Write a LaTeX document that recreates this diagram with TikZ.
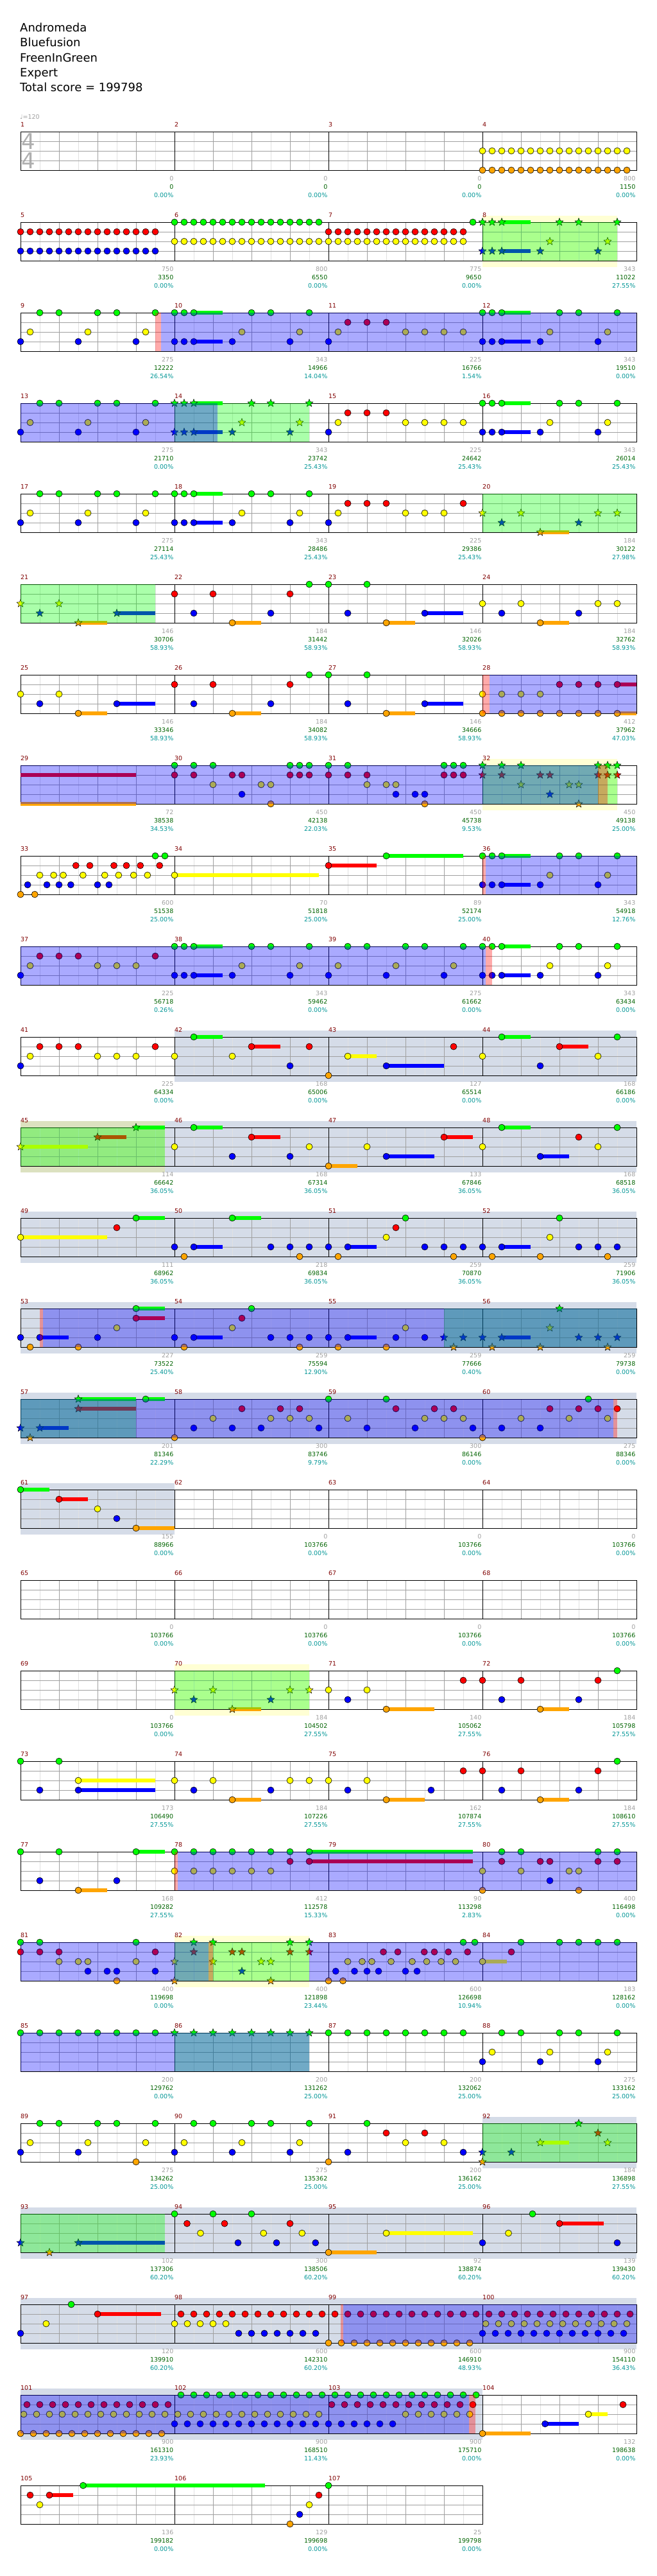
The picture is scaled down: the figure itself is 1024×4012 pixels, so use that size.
\documentclass[tikz,border=0pt]{standalone}
\usepackage{fontspec}
\setmainfont{DejaVu Sans}
\definecolor{cG}{RGB}{0,255,0}
\definecolor{cR}{RGB}{255,0,0}
\definecolor{cY}{RGB}{255,255,0}
\definecolor{cB}{RGB}{0,0,255}
\definecolor{cO}{RGB}{255,165,0}
\definecolor{slate}{RGB}{213,220,232}
\definecolor{mnum}{RGB}{128,0,0}
\definecolor{gnum}{RGB}{160,160,160}
\definecolor{dgnum}{RGB}{0,100,0}
\definecolor{tnum}{RGB}{0,150,150}
\definecolor{beat}{RGB}{160,160,160}
\definecolor{eighth}{RGB}{225,225,225}
\definecolor{tsig}{RGB}{175,175,175}
\tikzset{
 rowsc/.style={x=15pt,y=-15pt,shift={(32pt,-#1pt)}},
 lbl/.style={inner sep=0pt,font=\fontsize{9.5}{10}\selectfont},
 mn/.style={lbl,text=mnum,anchor=west},
 gr/.style={lbl,text=gnum,anchor=east},
 gn/.style={lbl,text=dgnum,anchor=east},
 tl/.style={lbl,text=tnum,anchor=east},
 hd/.style={inner sep=0pt,anchor=base west,font=\fontsize{18}{20}\selectfont},
 notec/.style={line width=0.6pt},
}
\newcommand\grid[1]{%
 \pgfmathtruncatemacro\gl{#1-2}\pgfmathtruncatemacro\gb{#1-4}%
 \foreach \i in {2,6,...,\gl}{\draw[eighth,line width=0.8pt] (\i,0)--(\i,4);}
 \foreach \i in {4,8,...,\gb}{\draw[beat,line width=0.8pt] (\i,0)--(\i,4);}
 \foreach \i in {1,2,3}{\draw[beat,line width=0.8pt] (0,\i)--(#1,\i);}
 \foreach \i in {16,32,...,\gb}{\draw[black,line width=0.8pt] (\i,0)--(\i,4);}
 \draw[black,line width=1pt] (0,0) rectangle (#1,4);}
\newcommand\nt[3]{\foreach \p in {#3}{\draw[fill=#2,notec] (\p,#1) circle[radius=5pt];}}
\newcommand\nG[1]{\nt{0}{cG}{#1}}
\newcommand\nR[1]{\nt{1}{cR}{#1}}
\newcommand\nY[1]{\nt{2}{cY}{#1}}
\newcommand\nB[1]{\nt{3}{cB}{#1}}
\newcommand\nO[1]{\nt{4}{cO}{#1}}
\newcommand\strs[3]{\foreach \p in {#3}{\draw[fill=#2,line width=0.5pt,shift={(\p,#1)}] (90:6.3pt)--(126:2.7pt)--(162:6.3pt)--(198:2.7pt)--(234:6.3pt)--(270:2.7pt)--(306:6.3pt)--(342:2.7pt)--(18:6.3pt)--(54:2.7pt)--cycle;}}
\newcommand\sG[1]{\strs{0}{cG}{#1}}
\newcommand\sR[1]{\strs{1}{cR}{#1}}
\newcommand\sY[1]{\strs{2}{cY}{#1}}
\newcommand\sB[1]{\strs{3}{cB}{#1}}
\newcommand\sO[1]{\strs{4}{cO}{#1}}
\newcommand\su[4]{\fill[#2] (#3,{#1-0.22}) rectangle (#4,{#1+0.22});}
\newcommand\trip[4]{\foreach \k in {0,...,#4}{\draw[fill=#2,notec] ({#3+1.33333*\k},#1) circle[radius=5pt];}}
\newcommand\gz[2]{\fill[cG,opacity=0.333] (#1,0) rectangle (#2,4);}
\newcommand\bz[2]{\fill[cB,opacity=0.333] (#1,0) rectangle (#2,4);}
\newcommand\pz[2]{\fill[cR,opacity=0.333] (#1,0) rectangle (#2,4);}
\newcommand\sz[2]{\fill[slate] (#1,-0.667) rectangle (#2,4.667);}
\newcommand\yz[2]{\fill[cY,opacity=0.17] (#1,-0.667) rectangle (#2,4.667);}
\newcommand\ms[5]{\node[mn] (m#2) at ({16*#1},-0.75) {#2};
 \node[gr] (a#2) at ({16*#1+15.9},4.85) {#3};
 \node[gn] (b#2) at ({16*#1+15.9},5.73) {#4};
 \node[tl] (c#2) at ({16*#1+15.9},6.62) {#5};}
\begin{document}
\begin{tikzpicture}
\useasboundingbox (0,0) rectangle (1024pt,-4012pt);
\fill[white] (0,0) rectangle (1024pt,-4012pt);
\node[hd] (h1) at (31pt,-50pt) {Andromeda};
\node[hd] (h2) at (31pt,-73pt) {Bluefusion};
\node[hd] (h3) at (31pt,-96pt) {FreenInGreen};
\node[hd] (h4) at (31pt,-119pt) {Expert};
\node[hd] (h5) at (31pt,-142pt) {Total score = 199798};
\node[lbl,text=gnum,anchor=west] (tempo) at (31pt,-182pt) {♩=120};
\node[inner sep=0pt,text=tsig,font=\fontsize{34}{34}\selectfont] (ts1) at (44.5pt,-220.5pt) {4};
\node[inner sep=0pt,text=tsig,font=\fontsize{34}{34}\selectfont] (ts2) at (44.5pt,-250.5pt) {4};
% row 1
\begin{scope}[rowsc=205]
\grid{64}
\nY{48,...,63}\nO{48,...,63}
\ms{0}{1}{0}{0}{0.00\%}\ms{1}{2}{0}{0}{0.00\%}\ms{2}{3}{0}{0}{0.00\%}\ms{3}{4}{800}{1150}{0.00\%}
\end{scope}
% row 2
\begin{scope}[rowsc=346]
\yz{48}{62}
\grid{64}
\nR{0,...,14}\nB{0,...,14}\nY{16,...,46}\nG{16,...,31}\nR{32,...,46}\nG{47}
\su{0}{cG}{50}{53}\sG{48,49,50,56,58,62}\sY{55,61}\su{3}{cB}{50}{53}\sB{48,49,50,54,60}
\gz{48}{62}
\ms{0}{5}{750}{3350}{0.00\%}\ms{1}{6}{800}{6550}{0.00\%}\ms{2}{7}{775}{9650}{0.00\%}\ms{3}{8}{343}{11022}{27.55\%}
\end{scope}
% row 3
\begin{scope}[rowsc=487]
\grid{64}
\nG{2,4,8,10,14}\nY{1,7,13}\nB{0,6,12}
\su{0}{cG}{18}{21}\nG{16,17,18,24,26,30}\nY{23,29}\su{3}{cB}{18}{21}\nB{16,17,18,22,28,32}
\nR{34,36,38}\nY{33,40,42,44,46}
\su{0}{cG}{50}{53}\nG{48,49,50,56,58,62}\nY{55,61}\su{3}{cB}{50}{53}\nB{48,49,50,54,60}
\pz{14}{14.6}\bz{14.6}{64}
\ms{0}{9}{275}{12222}{26.54\%}\ms{1}{10}{343}{14966}{14.04\%}\ms{2}{11}{225}{16766}{1.54\%}\ms{3}{12}{343}{19510}{0.00\%}
\end{scope}
% row 4
\begin{scope}[rowsc=628]
\grid{64}
\nG{2,4,8,10,14}\nY{1,7,13}\nB{0,6,12}
\su{0}{cG}{18}{21}\sG{16,17,18,24,26,30}\sY{23,29}\su{3}{cB}{18}{21}\sB{16,17,18,22,28}
\nR{34,36,38}\nY{33,40,42,44,46}\nB{32}
\su{0}{cG}{50}{53}\nG{48,49,50,56,58,62}\nY{55,61}\su{3}{cB}{50}{53}\nB{48,49,50,54,60}
\gz{16}{30}\bz{0}{20.46}
\ms{0}{13}{275}{21710}{0.00\%}\ms{1}{14}{343}{23742}{25.43\%}\ms{2}{15}{225}{24642}{25.43\%}\ms{3}{16}{343}{26014}{25.43\%}
\end{scope}
% row 5
\begin{scope}[rowsc=769]
\grid{64}
\nG{2,4,8,10,14}\nY{1,7,13}\nB{0,6,12}
\su{0}{cG}{18}{21}\nG{16,17,18,24,26,30}\nY{23,29}\su{3}{cB}{18}{21}\nB{16,17,18,22,28,32}
\nR{34,36,38,46}\nY{33,40,42,44}
\sY{48,52,60,62}\sB{50,58}\su{4}{cO}{54}{57}\sO{54}
\gz{48}{64}
\ms{0}{17}{275}{27114}{25.43\%}\ms{1}{18}{343}{28486}{25.43\%}\ms{2}{19}{225}{29386}{25.43\%}\ms{3}{20}{184}{30122}{27.98\%}
\end{scope}
% row 6
\begin{scope}[rowsc=910]
\grid{64}
\sY{0,4}\su{3}{cB}{10}{14}\sB{2,10}\su{4}{cO}{6}{9}\sO{6}
\nR{16,20,28}\nB{18,26}\su{4}{cO}{22}{25}\nO{22}\nG{30}
\nG{32,36}\su{3}{cB}{42}{46}\nB{34,42}\su{4}{cO}{38}{41}\nO{38}
\nY{48,52,60,62}\nB{50,58}\su{4}{cO}{54}{57}\nO{54}
\gz{0}{14}
\ms{0}{21}{146}{30706}{58.93\%}\ms{1}{22}{184}{31442}{58.93\%}\ms{2}{23}{146}{32026}{58.93\%}\ms{3}{24}{184}{32762}{58.93\%}
\end{scope}
% row 7
\begin{scope}[rowsc=1051]
\grid{64}
\nY{0,4}\su{3}{cB}{10}{14}\nB{2,10}\su{4}{cO}{6}{9}\nO{6}
\nR{16,20,28}\nB{18,26}\su{4}{cO}{22}{25}\nO{22}\nG{30}
\nG{32,36}\su{3}{cB}{42}{46}\nB{34,42}\su{4}{cO}{38}{41}\nO{38}
\nY{48,50,52,54}\su{1}{cR}{62}{64}\nR{56,58,60,62}\su{4}{cO}{62}{64}\nO{48,50,...,62}
\pz{48}{48.7}\bz{48.7}{64}
\ms{0}{25}{146}{33346}{58.93\%}\ms{1}{26}{184}{34082}{58.93\%}\ms{2}{27}{146}{34666}{58.93\%}\ms{3}{28}{412}{37962}{47.03\%}
\end{scope}
% row 8
\begin{scope}[rowsc=1192]
\yz{48}{62}
\grid{64}
\su{1}{cR}{0}{12}\su{4}{cO}{0}{12}
\nG{16,18,20,28,29,30}\nR{16,18,22,23,28,29,30}\nY{20,25,26}\nB{23}\nO{26}
\nG{32,34,44,45,46}\nR{32,34,36,44,45,46}\nY{36,38,39}\nB{39,41,42}\nO{42}
\sG{48,50,52,60,61,62}\sR{48,50,54,55,60,61,62}\sY{52,57,58}\sB{55}\sO{58}
\gz{48}{62}\bz{0}{60}\pz{60}{61}
\ms{0}{29}{72}{38538}{34.53\%}\ms{1}{30}{450}{42138}{22.03\%}\ms{2}{31}{450}{45738}{9.53\%}\ms{3}{32}{450}{49138}{25.00\%}
\end{scope}
% row 9
\begin{scope}[rowsc=1333]
\grid{64}
\nG{14,15}\nR{5.75,7.2,9.7,11,12.45,14.45}\nY{2,3.44,4.44,6.49,8.75,10.19,11.75,13.19}\nB{0.74,2.74,4,5.22,8,9.19}\nO{0,1.48}
\su{2}{cY}{16}{31}\nY{16}
\su{1}{cR}{32}{37}\nR{32}\su{0}{cG}{38}{46}\nG{38}
\su{0}{cG}{50}{53}\nG{48,49,50,56,58,62}\nY{55,61}\su{3}{cB}{50}{53}\nB{48,49,50,54,60}
\pz{48}{48.35}\bz{48.35}{64}
\ms{0}{33}{600}{51538}{25.00\%}\ms{1}{34}{70}{51818}{25.00\%}\ms{2}{35}{89}{52174}{25.00\%}\ms{3}{36}{343}{54918}{12.76\%}
\end{scope}
% row 10
\begin{scope}[rowsc=1474]
\grid{64}
\nR{2,4,6,14}\nY{1,8,10,12}\nB{0}
\su{0}{cG}{18}{21}\nG{16,17,18,24,26,30}\nY{23,29}\su{3}{cB}{18}{21}\nB{16,17,18,22,28}
\nG{34,36,40,42,46,48}\nY{33,39,45}\nB{32,38,44,48}
\su{0}{cG}{50}{53}\nG{49,50,56,58,62}\nY{55,61}\su{3}{cB}{50}{53}\nB{49,50,54,60}
\bz{0}{48.35}\pz{48.35}{49}
\ms{0}{37}{225}{56718}{0.26\%}\ms{1}{38}{343}{59462}{0.00\%}\ms{2}{39}{275}{61662}{0.00\%}\ms{3}{40}{343}{63434}{0.00\%}
\end{scope}
% row 11
\begin{scope}[rowsc=1615]
\sz{16}{64}
\grid{64}
\nR{2,4,6,14}\nY{1,8,10,12,16}\nB{0}
\su{0}{cG}{18}{21}\nG{18}\su{1}{cR}{24}{27}\nR{24,30}\nY{22}\nB{28}\nO{32}
\su{2}{cY}{34}{37}\nY{34}\su{3}{cB}{38}{44}\nB{38}\nR{45}
\nY{48,60}\su{0}{cG}{50}{53}\nG{50,62}\nB{54}\su{1}{cR}{56}{59}\nR{56}
\ms{0}{41}{225}{64334}{0.00\%}\ms{1}{42}{168}{65006}{0.00\%}\ms{2}{43}{127}{65514}{0.00\%}\ms{3}{44}{168}{66186}{0.00\%}
\end{scope}
% row 12
\begin{scope}[rowsc=1756]
\sz{0}{64}\yz{0}{15}
\grid{64}
\su{0}{cG}{12}{15}\sG{12}\su{1}{cR}{8}{11}\sR{8}\su{2}{cY}{0}{7}\sY{0}
\nY{16,30}\su{0}{cG}{18}{21}\nG{18}\nB{22,28}\su{1}{cR}{24}{27}\nR{24}
\su{4}{cO}{32}{35}\nO{32}\nY{36}\su{3}{cB}{38}{43}\nB{38}\su{1}{cR}{44}{47}\nR{44}
\nY{48,60}\su{0}{cG}{50}{53}\nG{50,62}\su{3}{cB}{54}{57}\nB{54}\nR{58}
\gz{0}{15}
\ms{0}{45}{114}{66642}{36.05\%}\ms{1}{46}{168}{67314}{36.05\%}\ms{2}{47}{133}{67846}{36.05\%}\ms{3}{48}{168}{68518}{36.05\%}
\end{scope}
% row 13
\begin{scope}[rowsc=1897]
\sz{0}{64}
\grid{64}
\su{2}{cY}{0}{9}\nY{0}\nR{10}\su{0}{cG}{12}{15}\nG{12}
\su{3}{cB}{18}{21}\nB{16,18,26,28,30}\nO{17,29}\su{0}{cG}{22}{25}\nG{22}
\su{3}{cB}{34}{37}\nB{32,34,42,44,46}\nO{33,45}\nY{38}\nR{39}\nG{40}
\su{3}{cB}{50}{53}\nB{48,50,58,60,62}\nO{49,54,61}\nY{55}\nG{56}
\ms{0}{49}{111}{68962}{36.05\%}\ms{1}{50}{218}{69834}{36.05\%}\ms{2}{51}{259}{70870}{36.05\%}\ms{3}{52}{259}{71906}{36.05\%}
\end{scope}
% row 14
\begin{scope}[rowsc=2038]
\sz{0}{64}
\grid{64}
\nB{0,8}\nO{1,6}\su{3}{cB}{2}{5}\nB{2}\nY{10}\su{0}{cG}{12}{15}\nG{12}\su{1}{cR}{12}{15}\nR{12}
\nB{16,26,28,30}\nO{17,29}\su{3}{cB}{18}{21}\nB{18}\nY{22}\nR{23}\nG{24}
\nB{32,39,42}\nO{33,38}\su{3}{cB}{34}{37}\nB{34}\nY{40}
\su{3}{cB}{50}{53}\sB{44,46,48,50,58,60,62}\sO{45,49,54,61}\sY{55}\sG{56}
\gz{44}{64}\pz{2}{2.3}\bz{2.3}{64}
\ms{0}{53}{227}{73522}{25.40\%}\ms{1}{54}{259}{75594}{12.90\%}\ms{2}{55}{259}{77666}{0.40\%}\ms{3}{56}{259}{79738}{0.00\%}
\end{scope}
% row 15
\begin{scope}[rowsc=2179]
\sz{0}{64}
\grid{64}
\su{3}{cB}{2}{5}\sB{0,2}\sO{1}\su{0}{cG}{6}{12}\sG{6}\su{1}{cR}{6}{12}\sR{6}\su{0}{cG}{13}{15}\nG{13}
\nO{16}\nB{18,22,25,31}\nR{23,27,29}\nY{20,26,28,30}
\nG{32,38}\nY{34,42,44,46}\nB{36,41,47}\nR{39,43,45}
\nO{48}\nB{50,54}\nY{52,57,61}\nR{55,58,60,62}\nG{59}
\gz{0}{12}\bz{0}{61.6}\pz{61.6}{62}
\ms{0}{57}{201}{81346}{22.29\%}\ms{1}{58}{300}{83746}{9.79\%}\ms{2}{59}{300}{86146}{0.00\%}\ms{3}{60}{275}{88346}{0.00\%}
\end{scope}
% row 16
\begin{scope}[rowsc=2320]
\sz{0}{16}
\grid{64}
\su{0}{cG}{0}{3}\nG{0}\su{1}{cR}{4}{7}\nR{4}\nY{8}\nB{10}\su{4}{cO}{12}{16}\nO{12}
\ms{0}{61}{155}{88966}{0.00\%}\ms{1}{62}{0}{103766}{0.00\%}\ms{2}{63}{0}{103766}{0.00\%}\ms{3}{64}{0}{103766}{0.00\%}
\end{scope}
% row 17
\begin{scope}[rowsc=2461]
\grid{64}
\ms{0}{65}{0}{103766}{0.00\%}\ms{1}{66}{0}{103766}{0.00\%}\ms{2}{67}{0}{103766}{0.00\%}\ms{3}{68}{0}{103766}{0.00\%}
\end{scope}
% row 18
\begin{scope}[rowsc=2602]
\yz{16}{30}
\grid{64}
\sY{16,20,28,30}\sB{18,26}\su{4}{cO}{22}{25}\sO{22}
\nY{32,36}\nB{34}\su{4}{cO}{38}{43}\nO{38}\nR{46}
\nR{48,52,60}\nB{50,58}\su{4}{cO}{54}{57}\nO{54}\nG{62}
\gz{16}{30}
\ms{0}{69}{0}{103766}{0.00\%}\ms{1}{70}{184}{104502}{27.55\%}\ms{2}{71}{140}{105062}{27.55\%}\ms{3}{72}{184}{105798}{27.55\%}
\end{scope}
% row 19
\begin{scope}[rowsc=2743]
\grid{64}
\nG{0,4}\nB{2}\su{2}{cY}{6}{14}\nY{6}\su{3}{cB}{6}{14}\nB{6}
\nY{16,20,28,30}\nB{18,26}\su{4}{cO}{22}{25}\nO{22}
\nY{32,36}\nB{34,42.66}\su{4}{cO}{38}{42}\nO{38}\nR{46}
\nR{48,52,60}\nB{50,58}\su{4}{cO}{54}{57}\nO{54}\nG{62}
\ms{0}{73}{173}{106490}{27.55\%}\ms{1}{74}{184}{107226}{27.55\%}\ms{2}{75}{162}{107874}{27.55\%}\ms{3}{76}{184}{108610}{27.55\%}
\end{scope}
% row 20
\begin{scope}[rowsc=2884]
\grid{64}
\nG{0,4}\su{0}{cG}{12}{15}\nG{12}\nB{2,10}\su{4}{cO}{6}{9}\nO{6}
\su{0}{cG}{30}{47}\nG{16,18,...,30}\nY{16,18,...,26}\su{1}{cR}{30}{47}\nR{28,30}
\nY{48,52,57,58}\nO{48,58}\nG{50,52,60,62}\nR{50,54,55,60,62}\nB{55}
\pz{16}{16.35}\bz{16.35}{64}
\ms{0}{77}{168}{109282}{27.55\%}\ms{1}{78}{412}{112578}{15.33\%}\ms{2}{79}{90}{113298}{2.83\%}\ms{3}{80}{400}{116498}{0.00\%}
\end{scope}
% row 21
\begin{scope}[rowsc=3025]
\yz{16}{30}
\grid{64}
\nG{0,2,12}\nR{0,2,4,14}\nY{4,6,7,12}\nB{7,9,10,14}\nO{10}
\sG{18,20,28,30}\sR{18,22,23,28,30}\sY{16,20,25,26}\sB{23}\sO{16,26}
\nO{32,33.5}\nB{32.75,34.7,36,37.2,40,41.2}\nY{34,35.5,36.5,38.5,40.7,42.2,43.7,45.2}\nR{37.7,39.2,41.95,43,44.45,46.45}\nG{46,47.2}
\su{2}{cY}{48}{50.5}\nY{48}\nR{51}\nG{52,56,58,60,62}
\gz{16}{30}\bz{0}{19.55}\pz{19.55}{20}\bz{30}{64}
\ms{0}{81}{400}{119698}{0.00\%}\ms{1}{82}{400}{121898}{23.44\%}\ms{2}{83}{600}{126698}{10.94\%}\ms{3}{84}{183}{128162}{0.00\%}
\end{scope}
% row 22
\begin{scope}[rowsc=3166]
\grid{64}
\nG{0,2,...,14}\sG{16,18,...,30}\nG{32,34,...,46}
\nB{48,54,60}\nY{49,55,61}\nG{50,52,56,58,62}
\gz{16}{30}\bz{0}{30}
\ms{0}{85}{200}{129762}{0.00\%}\ms{1}{86}{200}{131262}{25.00\%}\ms{2}{87}{200}{132062}{25.00\%}\ms{3}{88}{275}{133162}{25.00\%}
\end{scope}
% row 23
\begin{scope}[rowsc=3307]
\sz{48}{64}
\grid{64}
\nG{2,4,8,10,14}\nY{1,7,13}\nB{0,6}\nO{12}
\nG{18,20,24,26,30}\nY{17,23,29}\nB{16,22,28}\nO{32}
\nG{36}\nB{34,46}\nR{38,42}\nY{40,44}
\sB{48,51}\sO{48}\su{2}{cY}{54}{57}\sY{54,61}\sG{58}\sR{60}
\gz{48}{64}
\ms{0}{89}{275}{134262}{25.00\%}\ms{1}{90}{275}{135362}{25.00\%}\ms{2}{91}{200}{136162}{25.00\%}\ms{3}{92}{184}{136898}{27.55\%}
\end{scope}
% row 24
\begin{scope}[rowsc=3448]
\sz{0}{64}
\grid{64}
\su{3}{cB}{6}{15}\sB{0,6}\sO{3}
\nG{16,20,24}\nR{17.3,21.2,28}\nY{18.7,25.25,29.25}\nB{22.6,26.6,30.65}
\su{4}{cO}{32}{37}\nO{32}\su{2}{cY}{38}{47}\nY{38}
\nB{48,62}\nY{50.7}\nG{53.2}\su{1}{cR}{56}{60.6}\nR{56}
\gz{0}{15}
\ms{0}{93}{102}{137306}{60.20\%}\ms{1}{94}{300}{138506}{60.20\%}\ms{2}{95}{92}{138874}{60.20\%}\ms{3}{96}{139}{139430}{60.20\%}
\end{scope}
% row 25
\begin{scope}[rowsc=3589]
\sz{0}{64}
\grid{64}
\nB{0}\nY{2.66}\nG{5.27}\su{1}{cR}{8}{14.6}\nR{8}
\trip{1}{cR}{16.6667}{35}\trip{2}{cY}{16}{4}\trip{3}{cB}{22.6667}{6}
\trip{4}{cO}{32}{11}
\trip{2}{cY}{48.3333}{11}\trip{3}{cB}{48}{11}
\pz{33.26}{33.5}\bz{33.5}{64}
\ms{0}{97}{120}{139910}{60.20\%}\ms{1}{98}{600}{142310}{60.20\%}\ms{2}{99}{600}{146910}{48.93\%}\ms{3}{100}{900}{154110}{36.43\%}
\end{scope}
% row 26
\begin{scope}[rowsc=3730]
\sz{0}{48}
\grid{64}
\trip{1}{cR}{0.6667}{11}\trip{2}{cY}{0.3333}{23}\trip{4}{cO}{0}{11}
\trip{0}{cG}{16.6667}{23}\trip{3}{cB}{16}{17}
\trip{1}{cR}{32.3333}{11}\trip{2}{cY}{40}{5}
\su{4}{cO}{48}{53}\nO{48}\su{3}{cB}{54.5}{58}\nB{54.5}\su{2}{cY}{59}{61}\nY{59}\nR{62.6}
\bz{0}{46.6}\pz{46.6}{47.24}
\ms{0}{101}{900}{161310}{23.93\%}\ms{1}{102}{900}{168510}{11.43\%}\ms{2}{103}{900}{175710}{0.00\%}\ms{3}{104}{132}{198638}{0.00\%}
\end{scope}
% row 27
\begin{scope}[rowsc=3871]
\grid{48}
\nR{1}\su{1}{cR}{3}{5.44}\nR{3}\nY{2}\su{0}{cG}{6.5}{25.4}\nG{6.5}
\nO{28}\nB{29}\nY{30}\nR{31}
\nG{32}
\ms{0}{105}{136}{199182}{0.00\%}\ms{1}{106}{129}{199698}{0.00\%}\ms{2}{107}{25}{199798}{0.00\%}
\end{scope}
\end{tikzpicture}
\end{document}
